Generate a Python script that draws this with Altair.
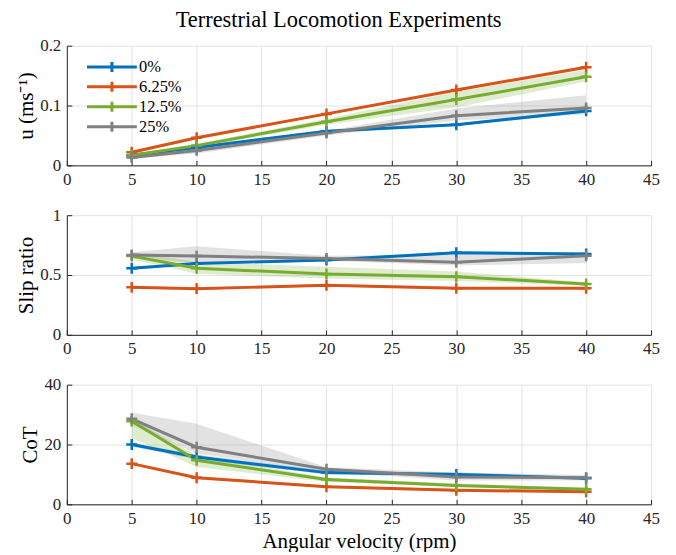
import altair as alt
import pandas as pd

x_vals = [5, 10, 20, 30, 40]
series = ["0%", "6.25%", "12.5%", "25%"]
colors = ["#0072BD", "#D95319", "#77AC30", "#808080"]

# Panel 1: u (m/s)
u_mean = [
    [0.017, 0.030, 0.057, 0.068, 0.091],
    [0.022, 0.046, 0.086, 0.126, 0.164],
    [0.017, 0.033, 0.073, 0.110, 0.148],
    [0.013, 0.025, 0.054, 0.083, 0.096],
]
u_lo = [
    [0.015, 0.028, 0.055, 0.066, 0.088],
    [0.020, 0.044, 0.084, 0.124, 0.161],
    [0.015, 0.030, 0.068, 0.097, 0.140],
    [0.011, 0.020, 0.050, 0.075, 0.085],
]
u_hi = [
    [0.019, 0.032, 0.059, 0.070, 0.094],
    [0.024, 0.048, 0.088, 0.128, 0.167],
    [0.019, 0.036, 0.078, 0.123, 0.160],
    [0.015, 0.030, 0.058, 0.095, 0.117],
]

# Panel 2: slip ratio
s_mean = [
    [0.556, 0.597, 0.625, 0.686, 0.675],
    [0.397, 0.386, 0.414, 0.390, 0.390],
    [0.658, 0.556, 0.508, 0.486, 0.425],
    [0.667, 0.658, 0.639, 0.606, 0.661],
]
s_lo = [
    [0.546, 0.587, 0.615, 0.676, 0.665],
    [0.387, 0.376, 0.404, 0.380, 0.380],
    [0.630, 0.510, 0.470, 0.450, 0.410],
    [0.640, 0.600, 0.620, 0.580, 0.600],
]
s_hi = [
    [0.566, 0.607, 0.635, 0.696, 0.685],
    [0.407, 0.396, 0.424, 0.400, 0.400],
    [0.690, 0.610, 0.570, 0.530, 0.440],
    [0.690, 0.740, 0.660, 0.670, 0.690],
]

# Panel 3: CoT
c_mean = [
    [20.0, 15.8, 10.6, 10.0, 8.7],
    [13.6, 8.9, 5.9, 4.7, 4.2],
    [27.8, 14.7, 8.3, 6.3, 5.0],
    [28.6, 19.1, 11.7, 9.1, 8.9],
]
c_lo = [
    [19.3, 15.0, 10.0, 9.5, 8.2],
    [13.2, 8.5, 5.5, 4.3, 3.8],
    [22.2, 12.5, 7.5, 5.8, 4.5],
    [26.5, 17.0, 10.8, 8.0, 8.0],
]
c_hi = [
    [20.7, 16.6, 11.2, 10.6, 9.3],
    [14.0, 9.3, 6.3, 5.1, 4.6],
    [28.6, 16.3, 9.0, 7.0, 5.5],
    [30.6, 26.9, 12.4, 10.6, 9.8],
]

x_ticks = [0, 5, 10, 15, 20, 25, 30, 35, 40, 45]

FONT = "Liberation Serif"
W, H = 586, 120
AX = "#262626"
PLUS = "M-1,0L1,0M0,-1L0,1"
LEG_SYM = "M-5,0L5,0M0,-1L0,1"


def make_df(means, los, his):
    rows = []
    for si, s in enumerate(series):
        for j, xv in enumerate(x_vals):
            rows.append(dict(series=s, idx=si, x=xv, y=means[si][j],
                             lo=los[si][j], hi=his[si][j]))
    return pd.DataFrame(rows)


def panel(df, ytitle, ydomain, yticks, show_legend, show_xtitle):
    xs = alt.Scale(domain=[0, 45], nice=False)
    ys = alt.Scale(domain=ydomain, nice=False)
    cs = alt.Scale(domain=series, range=colors)
    main_x = alt.Axis(values=x_ticks, format="~r", ticks=False, grid=True,
                      labelFlush=False,
                      title="Angular velocity (rpm)" if show_xtitle else None,
                      labelPadding=6, titlePadding=4)
    main_y = alt.Axis(values=yticks, format="~r", ticks=False, grid=True,
                      labelFlush=False,
                      title=ytitle, labelPadding=6, titlePadding=3)
    band = alt.Chart(df).mark_area(opacity=0.23, strokeWidth=0).encode(
        x=alt.X("x:Q", scale=xs, axis=main_x),
        y=alt.Y("lo:Q", scale=ys, axis=main_y),
        y2="hi:Q",
        fill=alt.Fill("series:N", scale=cs, legend=None),
    )
    if show_legend:
        leg = alt.Legend(title=None, orient="none", legendX=37, legendY=13,
                         symbolType=LEG_SYM, symbolSize=100, symbolStrokeWidth=3,
                         symbolOpacity=1, symbolFillColor="transparent",
                         labelOffset=19, labelFontSize=16.5, labelFont=FONT,
                         labelColor="#000000", rowPadding=-3, padding=0)
    else:
        leg = None
    line = alt.Chart(df).mark_line(strokeWidth=3).encode(
        x=alt.X("x:Q", scale=xs, axis=None),
        y=alt.Y("y:Q", scale=ys, axis=None),
        color=alt.Color("series:N", scale=cs, legend=leg),
        order="x:Q",
    )
    pts = alt.Chart(df).mark_point(shape=PLUS, filled=False, size=120,
                                   strokeWidth=2.5, opacity=1).encode(
        x=alt.X("x:Q", scale=xs,
                axis=alt.Axis(orient="top", offset=-H, values=x_ticks, labels=False,
                              domain=False, grid=False, ticks=True, tickSize=5,
                              tickColor=AX, title=None)),
        y=alt.Y("y:Q", scale=ys,
                axis=alt.Axis(orient="right", offset=-W, values=yticks, labels=False,
                              domain=False, grid=False, ticks=True, tickSize=5,
                              tickColor=AX, title=None)),
        color=alt.Color("series:N", scale=cs, legend=leg),
    )
    return alt.layer(band, line, pts).resolve_axis(x="independent", y="independent").properties(
        width=W, height=H)


p1 = panel(make_df(u_mean, u_lo, u_hi), "u (ms⁻¹)", [0, 0.2], [0, 0.1, 0.2], True, False)
p2 = panel(make_df(s_mean, s_lo, s_hi), "Slip ratio", [0, 1], [0, 0.5, 1], False, False)
p3 = panel(make_df(c_mean, c_lo, c_hi), "CoT", [0, 40], [0, 20, 40], False, True)

chart = alt.vconcat(p1, p2, p3, spacing=19).resolve_legend(color="independent").properties(
    title=alt.TitleParams("Terrestrial Locomotion Experiments", fontSize=22.5, font=FONT,
                          fontWeight="normal", anchor="middle", color="#000000", offset=5,
                          dx=1),
    padding={"left": 7, "top": 0, "right": 8, "bottom": 0},
).configure_view(stroke=None).configure_axis(
    labelFont=FONT, titleFont=FONT, labelFontSize=17, titleFontSize=21,
    titleFontWeight="normal", labelColor=AX, titleColor="#000000",
    domainColor=AX, domainWidth=1, gridColor="#e3e3e3", gridWidth=1,
)

chart.save("out.html", embed_options={"renderer": "svg", "actions": False})
